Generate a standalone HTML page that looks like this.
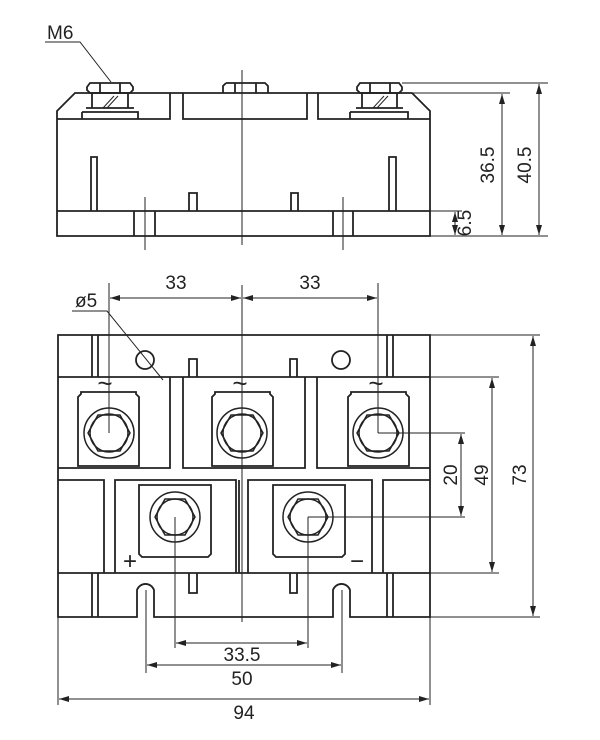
<!DOCTYPE html>
<html><head><meta charset="utf-8"><style>
html,body{margin:0;padding:0;background:#fff;}
svg{display:block;}
text{font-family:"Liberation Sans",sans-serif;font-size:19px;fill:#222;}
</style></head><body>
<svg width="600" height="740" viewBox="0 0 600 740" xmlns="http://www.w3.org/2000/svg">
<defs>
<marker id="a" viewBox="0 0 10 6" refX="10" refY="3" markerWidth="10" markerHeight="6" orient="auto-start-reverse" markerUnits="userSpaceOnUse"><path d="M0,0 L10,3 L0,6 z" fill="#222"/></marker>
</defs>
<g fill="none" stroke="#222" stroke-width="1.8">
<path d="M57,236 V111 L75,93 H412 L430,111 V236 Z"/>
<line x1="57" y1="211" x2="430" y2="211"/>
<path d="M57,119 H170 V93 M183,93 V119 H307 V93 M318,93 V119 H430"/>
<path d="M90,83 H130 L133,87 V90 L130,93 H90 L87,90 V87 Z"/>
<line x1="100" y1="83" x2="100" y2="93"/><line x1="120" y1="83" x2="120" y2="93"/>
<path d="M92,93 V108 M128,93 V108 M86,108 H134 M82,112 H138 V119 M82,112 V119"/>
<path d="M103,108 L114,96 M107,108 L118,96" stroke-width="1"/>
<path d="M226,83 H265 L268,86 V93 M223,93 V86 L226,83"/>
<line x1="235" y1="83" x2="235" y2="93"/><line x1="256" y1="83" x2="256" y2="93"/>
<path d="M360,83 H399 L402,87 V90 L399,93 H360 L357,90 V87 Z"/>
<line x1="370" y1="83" x2="370" y2="93"/><line x1="390" y1="83" x2="390" y2="93"/>
<path d="M362,93 V108 M397,93 V108 M356,108 H403 M350,112 H408 V119 M350,112 V119"/>
<path d="M373,108 L384,96 M377,108 L388,96" stroke-width="1"/>
<path d="M91,211 V157 H97 V211 M389,211 V157 H396 V211"/>
<path d="M189,211 V193 H197 V211 M291,211 V193 H298 V211"/>
<path d="M134,211 V236 M155,211 V236 M333,211 V236 M353,211 V236"/>

<path d="M58,335 H430 V617 H350 V590 A9,9 0 0 0 333,590 V617 H154 V590 A9,9 0 0 0 137,590 V617 H58 Z"/>
<line x1="58" y1="377" x2="430" y2="377"/>
<line x1="58" y1="573" x2="430" y2="573"/>
<path d="M92,335 V377 M98,335 V377 M387,335 V377 M393,335 V377"/>
<path d="M92,573 V617 M98,573 V617 M387,573 V617 M393,573 V617"/>
<circle cx="145" cy="360" r="9"/><circle cx="341" cy="360" r="9"/>
<path d="M189,377 V359 H197 V377 M290,377 V359 H297 V377"/>
<path d="M189,573 V593 H197 V573 M290,573 V593 H297 V573"/>
<path d="M58,468 H170 V377 M183,377 V468 H305 V377 M317,377 V468 H430"/>
<path d="M104,573 V480 H58 M115,573 V480 H236 V573 M239,573 V480 M248,573 V480 H372 V573 M383,573 V480 H430"/>
<path d="M78,466 V397 L81,394 V392 H136 V394 L139,397 V466 Z"/>
<path d="M212,466 V397 L215,394 V392 H270 V394 L273,397 V466 Z"/>
<path d="M348,466 V397 L351,394 V392 H406 V394 L409,397 V466 Z"/>
<path d="M139,485 H211 V554 L208,557 H142 L139,554 Z"/>
<path d="M273,485 H345 V554 L342,557 H276 L273,554 Z"/>
</g>
<g fill="none" stroke="#222" stroke-width="1.5">
<circle cx="109" cy="433" r="25"/><circle cx="109" cy="433" r="19"/>
<polygon points="88,433 98,415 120,415 130,433 120,451 98,451"/>
<circle cx="242" cy="433" r="25"/><circle cx="242" cy="433" r="19"/>
<polygon points="221,433 231,415 253,415 263,433 253,451 231,451"/>
<circle cx="378" cy="433" r="25"/><circle cx="378" cy="433" r="19"/>
<polygon points="357,433 367,415 389,415 399,433 389,451 367,451"/>
<circle cx="175" cy="517" r="25"/><circle cx="175" cy="517" r="18"/>
<polygon points="155,517 165,499 185,499 195,517 185,535 165,535"/>
<circle cx="308" cy="517" r="25"/><circle cx="308" cy="517" r="18"/>
<polygon points="288,517 298,499 318,499 328,517 318,535 298,535"/>
</g>
<g fill="none" stroke="#222" stroke-width="1">
<line x1="242" y1="70" x2="242" y2="245"/>
<line x1="145" y1="197" x2="145" y2="250"/>
<line x1="343" y1="197" x2="343" y2="250"/>
<path d="M45,42 H80 L111,82"/>
<path d="M412,93 H510 M402,83 H548 M430,236 H548 M430,211 H462"/>
<line x1="502" y1="94" x2="502" y2="235" marker-start="url(#a)" marker-end="url(#a)"/>
<line x1="539" y1="84" x2="539" y2="235" marker-start="url(#a)" marker-end="url(#a)"/>
<line x1="455" y1="212" x2="455" y2="235" marker-start="url(#a)" marker-end="url(#a)"/>
<line x1="242" y1="285" x2="242" y2="622"/>
<line x1="109" y1="283" x2="109" y2="433"/>
<line x1="378" y1="283" x2="378" y2="433"/>
<line x1="110" y1="298" x2="241" y2="298" marker-start="url(#a)" marker-end="url(#a)"/>
<line x1="243" y1="298" x2="377" y2="298" marker-start="url(#a)" marker-end="url(#a)"/>
<path d="M72,311 H107 L163,380"/>
<path d="M378,433 H465 M308,517 H465 M430,377 H499 M430,573 H499 M430,335 H540 M430,617 H540"/>
<line x1="461" y1="434" x2="461" y2="516" marker-start="url(#a)" marker-end="url(#a)"/>
<line x1="492" y1="378" x2="492" y2="572" marker-start="url(#a)" marker-end="url(#a)"/>
<line x1="533" y1="336" x2="533" y2="616" marker-start="url(#a)" marker-end="url(#a)"/>
<path d="M175,517 V648 M308,517 V648 M146,590 V673 M342,590 V673 M58,617 V705 M430,617 V705"/>
<line x1="176" y1="643" x2="307" y2="643" marker-start="url(#a)" marker-end="url(#a)"/>
<line x1="147" y1="665" x2="341" y2="665" marker-start="url(#a)" marker-end="url(#a)"/>
<line x1="59" y1="699" x2="429" y2="699" marker-start="url(#a)" marker-end="url(#a)"/>
</g>
<text x="47" y="39">M6</text>
<text x="176" y="289" text-anchor="middle">33</text>
<text x="310" y="289" text-anchor="middle">33</text>
<text x="75" y="307">ø5</text>
<text x="242" y="661" text-anchor="middle">33.5</text>
<text x="242" y="685" text-anchor="middle">50</text>
<text x="244" y="719" text-anchor="middle">94</text>
<text transform="translate(494,165) rotate(-90)" text-anchor="middle">36.5</text>
<text transform="translate(531,165) rotate(-90)" text-anchor="middle">40.5</text>
<text transform="translate(471,223) rotate(-90)" text-anchor="middle">6.5</text>
<text transform="translate(457,475) rotate(-90)" text-anchor="middle">20</text>
<text transform="translate(488,475) rotate(-90)" text-anchor="middle">49</text>
<text transform="translate(526,475) rotate(-90)" text-anchor="middle">73</text>
<text x="105" y="392" text-anchor="middle" style="font-size:26px">~</text>
<text x="240" y="392" text-anchor="middle" style="font-size:26px">~</text>
<text x="376" y="392" text-anchor="middle" style="font-size:26px">~</text>
<text x="130" y="569" text-anchor="middle" style="font-size:24px">+</text>
<text x="357" y="569" text-anchor="middle" style="font-size:24px">−</text>
</svg>
</body></html>
